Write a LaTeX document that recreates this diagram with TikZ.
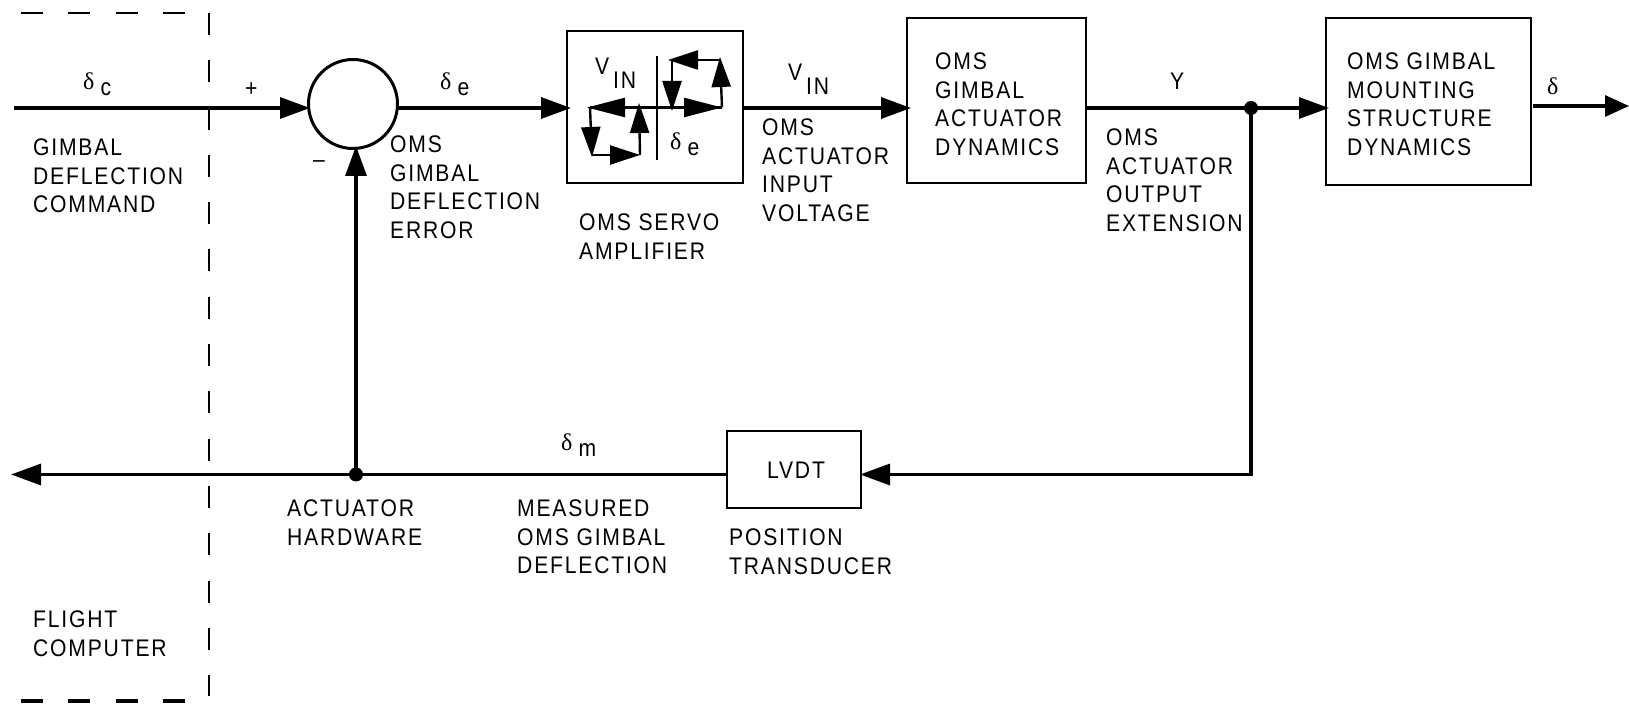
\documentclass[tikz,border=0pt]{standalone}
\usepackage{fontspec}
\setmainfont{Liberation Sans}[LetterSpace=7.5,FakeStretch=0.88]
\newfontfamily\greekf{Liberation Serif}
\usetikzlibrary{arrows.meta}
\tikzset{
 x=1pt,y=1pt,
 line/.style={line width=3.2pt},
 arr/.style={line width=3.2pt,-{Triangle[length=30pt,width=21pt]}},
 arr out/.style={line width=3.2pt,-{Triangle[length=24pt,width=21pt]}},
 amp arr/.style={line width=2.4pt,-{Triangle[length=30pt,width=19pt]}},
 amp arr long/.style={line width=2.4pt,-{Triangle[length=38pt,width=19pt]}},
 dash box/.style={line width=2.6pt,dash pattern=on 22pt off 25.3pt},
 dash low/.style={line width=3.2pt,dash pattern=on 22pt off 25.3pt},
 blockbox/.style={draw,line width=2.9pt,rectangle,inner sep=0pt,outer sep=0pt,anchor=north west},
 lab/.style={font=\fontsize{24}{28.4}\selectfont,align=left,anchor=north west,inner sep=0pt},
 sym/.style={font=\fontsize{24}{28}\selectfont,inner sep=0pt,anchor=base west},
 dot/.style={circle,fill=black,inner sep=0pt,minimum size=14pt}
}
\newcommand{\dl}{{\greekf δ}}
\newcommand{\dsub}[1]{\dl\kern6pt\raisebox{-6pt}{#1}}
\begin{document}
\begin{tikzpicture}
\useasboundingbox (0,0) rectangle (1629,704);
\draw[dash box] (21,{704-13}) -- (185,{704-13});
\draw[dash low] (21,{704-701}) -- (185,{704-701});
\draw[dash box] (209,{704-13}) -- (209,{704-696});
% blocks
\node[circle,draw,line width=3pt,minimum size=89pt,inner sep=0pt,outer sep=0pt] (sum) at (353,{704-104}) {};
\node[blockbox,minimum width=176pt,minimum height=152pt] (amp) at (567,{704-31}) {};
\node[blockbox,minimum width=179pt,minimum height=165pt] (act) at (907,{704-18}) {};
\node[blockbox,minimum width=205pt,minimum height=167pt] (mnt) at (1326,{704-18}) {};
\node[blockbox,minimum width=134pt,minimum height=77pt] (lvdt) at (727,{704-431}) {};
\node[lab,anchor=center] at ([xshift=2pt,yshift=-1pt]lvdt.center) {LVDT};
% connector ends
\coordinate (cin) at (14,{704-108});
\coordinate (sumw) at (310,{704-108});
\coordinate (sume) at (398,{704-108});
\coordinate (ampw) at (571,{704-108});
\coordinate (ampe) at (743,{704-108});
\coordinate (actw) at (911,{704-108});
\coordinate (acte) at (1086,{704-108});
\coordinate (mntw) at (1329,{704-108});
\coordinate (mnte) at (1533,{704-106});
\coordinate (out) at (1629,{704-106});
\node[dot] (jy) at (1251,{704-108}) {};
\node[dot] (jf) at (356,{704-474.5}) {};
\coordinate (corner) at (1251,{704-474.5});
\coordinate (lvdte) at (860,{704-474.5});
\coordinate (lvdtw) at (727,{704-474.5});
\coordinate (fbend) at (11,{704-474.5});
\coordinate (sums) at (356,{704-146});
\draw[arr] (cin) -- (sumw);
\draw[arr] (sume) -- (ampw);
\draw[arr] (ampe) -- (actw);
\draw[line] (acte) -- (jy.center);
\draw[arr] (jy.center) -- (mntw);
\draw[arr out] (mnte) -- (out);
\draw[arr,line cap=rect] (jy.center) -- (corner) -- (lvdte);
\draw[arr] (lvdtw) -- (fbend);
\draw[arr] (jf.center) -- (sums);
% servo amp characteristic
\coordinate (a0) at (590,{704-107.5});
\coordinate (a1) at (587,{704-107.5});
\coordinate (a2) at (639,{704-107.5});
\coordinate (a3) at (592,{704-157});
\coordinate (a5) at (592,{704-155});
\coordinate (a4) at (640,{704-155});
\coordinate (a6) at (639,{704-103});
\coordinate (b0) at (722,{704-107.5});
\coordinate (b2) at (672,{704-107.5});
\coordinate (b3) at (720,{704-57});
\coordinate (b5) at (720,{704-60});
\coordinate (b4) at (668,{704-60});
\coordinate (b6) at (672,{704-111});
\coordinate (b7) at (672,{704-60});
\coordinate (v1) at (657,{704-56});
\coordinate (v2) at (657,{704-160});
\draw[line width=2.8pt] (v1) -- (v2);
\draw[line] (a0) -- (b0);
\draw[amp arr long] (a2) -- (a1);
\draw[amp arr] (a0) -- (a3);
\draw[amp arr] (a5) -- (a4);
\draw[amp arr] (a4) -- (a6);
\draw[amp arr long] (b2) -- (b0);
\draw[amp arr] (b0) -- (b3);
\draw[amp arr] (b5) -- (b4);
\draw[amp arr] (b7) -- (b6);
% labels
\node[sym] (t1) at (83,{704-90}) {\dsub{c}};
\node[sym] (t2) at (245,{704-97}) {+};
\node[sym] (t3) at (313,{704-168}) {\textendash};
\node[sym] (t4) at (440,{704-90}) {\dsub{e}};
\node[sym] (t5) at (595,{704-75}) {V};
\node[sym] (t6) at (613,{704-89}) {IN};
\node[sym] (t7) at (670,{704-150}) {\dsub{e}};
\node[sym] (t8) at (788,{704-81}) {V};
\node[sym] (t9) at (806,{704-95}) {IN};
\node[sym] (t10) at (1170,{704-90}) {Y};
\node[sym] (t11) at (1547,{704-95}) {\dl};
\node[sym] (t12) at (561,{704-451}) {\dsub{m}};
\node[lab] (l1) at (33,{704-139}) {GIMBAL\\DEFLECTION\\COMMAND};
\node[lab] (l2) at (390,{704-136}) {OMS\\GIMBAL\\DEFLECTION\\ERROR};
\node[lab] (l3) at (579,{704-214}) {OMS SERVO\\AMPLIFIER};
\node[lab] (l4) at (762,{704-119}) {OMS\\ACTUATOR\\INPUT\\VOLTAGE};
\node[lab] (l5) at (935,{704-53}) {OMS\\GIMBAL\\ACTUATOR\\DYNAMICS};
\node[lab] (l6) at (1106,{704-129}) {OMS\\ACTUATOR\\OUTPUT\\EXTENSION};
\node[lab] (l7) at (1347,{704-53}) {OMS GIMBAL\\MOUNTING\\STRUCTURE\\DYNAMICS};
\node[lab] (l8) at (287,{704-500}) {ACTUATOR\\HARDWARE};
\node[lab] (l9) at (517,{704-500}) {MEASURED\\OMS GIMBAL\\DEFLECTION};
\node[lab] (l10) at (729,{704-529}) {POSITION\\TRANSDUCER};
\node[lab] (l11) at (33,{704-611}) {FLIGHT\\COMPUTER};
\end{tikzpicture}
\end{document}
